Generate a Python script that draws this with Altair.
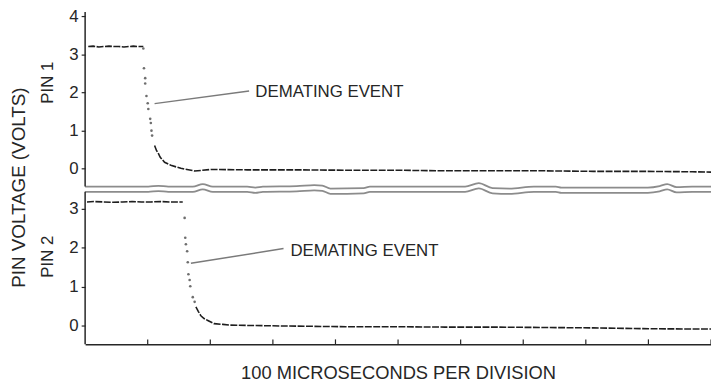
import altair as alt
import pandas as pd

# ---------------- data (x in divisions of 100 us, values in volts) ----------------
pin1_high_x = [0.05, 0.13, 0.22, 0.30, 0.38, 0.46, 0.54, 0.62, 0.70, 0.77, 0.85, 0.93]
pin1_high_v = [3.20, 3.21, 3.19, 3.20, 3.21, 3.20, 3.20, 3.19, 3.20, 3.21, 3.20, 3.20]
pin1_drop_x = [0.93, 0.94, 0.96, 0.96, 0.98, 1.00, 1.01, 1.04, 1.05, 1.06, 1.07]
pin1_drop_v = [3.15, 2.63, 2.37, 2.23, 1.90, 1.71, 1.56, 1.30, 1.19, 0.99, 0.86]
pin1_low_x = [1.11, 1.14, 1.17, 1.20, 1.27, 1.37, 1.53, 1.75, 2.01, 2.59, 3.38, 4.17,
              4.96, 5.75, 6.54, 7.33, 8.12, 8.91, 9.70, 10.0]
pin1_low_v = [0.60, 0.47, 0.39, 0.29, 0.16, 0.08, 0.00, -0.07, -0.03, -0.04, -0.04, -0.05,
              -0.05, -0.065, -0.065, -0.065, -0.08, -0.08, -0.09, -0.10]

pin2_high_x = [0.03, 0.15, 0.30, 0.45, 0.60, 0.75, 0.90, 1.05, 1.20, 1.35, 1.48, 1.56]
pin2_high_v = [3.18, 3.19, 3.18, 3.17, 3.18, 3.19, 3.18, 3.18, 3.19, 3.18, 3.18, 3.18]
pin2_drop_x = [1.59, 1.60, 1.61, 1.63, 1.64, 1.65, 1.67, 1.68, 1.72, 1.75]
pin2_drop_v = [2.77, 2.26, 2.09, 1.91, 1.63, 1.32, 1.17, 1.01, 0.73, 0.61]
pin2_low_x = [1.77, 1.81, 1.85, 1.90, 1.96, 2.06, 2.20, 2.32, 3.11, 4.17, 4.96, 5.75,
              6.54, 7.33, 8.12, 8.91, 9.70, 10.0]
pin2_low_v = [0.48, 0.36, 0.25, 0.18, 0.13, 0.05, 0.03, 0.01, -0.01, -0.03, -0.03, -0.04,
              -0.04, -0.05, -0.06, -0.08, -0.09, -0.09]

# panel borders (scanned, slightly wavy)
border_x = [0, 1.01, 1.17, 1.33, 1.72, 1.88, 2.04, 2.59, 2.72, 2.84, 3.38, 3.66, 3.79, 3.92,
            4.45, 4.55, 5.28, 6.07, 6.29, 6.51, 6.78, 7.17, 7.52, 7.61, 8.99, 9.18, 9.30,
            9.45, 9.70, 10.0]
border1_v = [-0.48, -0.48, -0.46, -0.48, -0.48, -0.415, -0.48, -0.48, -0.505, -0.48, -0.467,
             -0.44, -0.454, -0.532, -0.519, -0.48, -0.48, -0.48, -0.389, -0.519, -0.532,
             -0.48, -0.48, -0.506, -0.506, -0.467, -0.415, -0.493, -0.48, -0.48]
border2_v = [3.44, 3.44, 3.46, 3.44, 3.44, 3.504, 3.44, 3.44, 3.415, 3.44, 3.453, 3.478,
             3.465, 3.389, 3.402, 3.44, 3.44, 3.44, 3.529, 3.402, 3.389, 3.44, 3.44, 3.415,
             3.415, 3.453, 3.504, 3.427, 3.44, 3.44]

pin1_ticks = [0, 1, 2, 3, 4]
pin2_ticks = [0, 1, 2, 3]
x_divisions = [1, 2, 3, 4, 5, 6, 7, 8, 9, 10]

annot_text = ["DEMATING EVENT", "DEMATING EVENT"]
annot_panel = [1, 2]
annot_x = [2.72, 3.28]
annot_v = [2.00, 1.92]
leader_x = [1.11, 1.69]
leader_v = [1.70, 1.60]
leader_x2 = [2.62, 3.17]
leader_v2 = [2.03, 1.98]

pin_labels = ["PIN 1", "PIN 2"]
pin_panel = [1, 2]
pin_label_v = [2.25, 1.77]

x_title = "100 MICROSECONDS PER DIVISION"
y_title = "PIN VOLTAGE (VOLTS)"

# ---------------- layout: both panels share one vertical scale ----------------
PX = 39.0
H = 336
W = 633
YMIN = -0.49
YMAX = YMIN + H / PX
T_OFF, T_SC = 4.074, 0.987
B_OFF, B_SC = -0.003, 1.008


def Y(panel, v):
    return T_OFF + T_SC * v if panel == 1 else B_OFF + B_SC * v


def rows(xs, vs, panel, seg):
    return [{"x": a, "Y": Y(panel, b), "seg": seg} for a, b in zip(xs, vs)]


lines_df = pd.DataFrame(
    rows(pin1_high_x, pin1_high_v, 1, "p1h") + rows(pin1_low_x, pin1_low_v, 1, "p1l")
    + rows(pin2_high_x, pin2_high_v, 2, "p2h") + rows(pin2_low_x, pin2_low_v, 2, "p2l"))
dots_df = pd.DataFrame(rows(pin1_drop_x, pin1_drop_v, 1, "d1") + rows(pin2_drop_x, pin2_drop_v, 2, "d2"))
border_df = pd.DataFrame(rows(border_x, border1_v, 1, "b1") + rows(border_x, border2_v, 2, "b2"))

yaxis_df = pd.DataFrame([
    {"x": 0, "Y": Y(1, border1_v[0]), "Y2": YMAX},
    {"x": 0, "Y": YMIN, "Y2": Y(2, border2_v[0])},
])
xtick_df = pd.DataFrame({"x": x_divisions, "Y": [YMIN] * len(x_divisions),
                         "Y2": [YMIN + 5 / PX] * len(x_divisions)})
annot_df = pd.DataFrame({"text": annot_text, "x": annot_x,
                         "Y": [Y(p, v) for p, v in zip(annot_panel, annot_v)]})
leader_df = pd.DataFrame({"x": leader_x, "x2": leader_x2,
                          "Y": [Y(p, v) for p, v in zip(annot_panel, leader_v)],
                          "Y2": [Y(p, v) for p, v in zip(annot_panel, leader_v2)]})
pin_df = pd.DataFrame({"text": pin_labels, "Y": [Y(p, v) for p, v in zip(pin_panel, pin_label_v)]})

tick_values = [round(Y(2, v), 4) for v in pin2_ticks] + [round(Y(1, v), 4) for v in pin1_ticks]

FONT = "Liberation Sans"
INK = "#262626"

xs = alt.Scale(domain=[0, 10], nice=False, zero=False)
ys = alt.Scale(domain=[YMIN, YMAX], nice=False, zero=False)

label_expr = (f"datum.value > 3.6 ? round((datum.value - {T_OFF}) / {T_SC}) "
              f": round((datum.value - {B_OFF}) / {B_SC})")

x_axis = alt.Axis(
    title=x_title, domain=True, domainColor=INK, domainWidth=1.5, ticks=False, labels=False,
    grid=False, titleFont=FONT, titleFontSize=18.5, titleFontWeight="normal",
    titleColor=INK, titlePadding=20)
y_axis = alt.Axis(
    values=tick_values, labelExpr=label_expr, domain=False, grid=False,
    tickSize=4, tickColor=INK, tickWidth=1.2, labelPadding=3, labelFont=FONT,
    labelFontSize=17, labelColor=INK, title=y_title, titleFont=FONT, titleFontSize=19,
    titleFontWeight="normal", titleColor=INK, titleAngle=270, titleX=-67, titleY=177,
    titleAlign="center", titleBaseline="middle")

traces = alt.Chart(lines_df).mark_line(color="#1e1e1e", strokeWidth=1.6, strokeDash=[7, 1.5]).encode(
    x=alt.X("x:Q", scale=xs, axis=x_axis),
    y=alt.Y("Y:Q", scale=ys, axis=y_axis),
    detail="seg:N",
)

dots = alt.Chart(dots_df).mark_circle(color="#555555", size=7, opacity=0.85).encode(
    x=alt.X("x:Q", scale=xs), y=alt.Y("Y:Q", scale=ys))

borders = alt.Chart(border_df).mark_line(color="#8c8c8c", strokeWidth=1.8, interpolate="monotone").encode(
    x=alt.X("x:Q", scale=xs), y=alt.Y("Y:Q", scale=ys), detail="seg:N")

yaxis_lines = alt.Chart(yaxis_df).mark_rule(color=INK, strokeWidth=1.5).encode(
    x=alt.X("x:Q", scale=xs), y=alt.Y("Y:Q", scale=ys), y2="Y2:Q")

xticks = alt.Chart(xtick_df).mark_rule(color=INK, strokeWidth=1.2).encode(
    x=alt.X("x:Q", scale=xs), y=alt.Y("Y:Q", scale=ys), y2="Y2:Q")

leaders = alt.Chart(leader_df).mark_rule(color="#7a7a7a", strokeWidth=1.5).encode(
    x=alt.X("x:Q", scale=xs), x2="x2:Q",
    y=alt.Y("Y:Q", scale=ys), y2="Y2:Q")

annots = alt.Chart(annot_df).mark_text(
    align="left", baseline="middle", font=FONT, fontSize=17, color=INK).encode(
    x=alt.X("x:Q", scale=xs), y=alt.Y("Y:Q", scale=ys), text="text:N")

pins = alt.Chart(pin_df).mark_text(
    align="center", baseline="middle", font=FONT, fontSize=17, color=INK, angle=270).encode(
    x=alt.value(-37), y=alt.Y("Y:Q", scale=ys), text="text:N")

chart = alt.layer(traces, borders, yaxis_lines, xticks, dots, leaders, annots, pins).properties(
    width=W, height=H,
    autosize=alt.AutoSizeParams(type="none"),
    padding={"left": 78, "top": 2, "right": 0, "bottom": 40},
    background="white",
).configure_view(stroke=None)

chart.save("out.html", embed_options={"renderer": "svg", "actions": False})
